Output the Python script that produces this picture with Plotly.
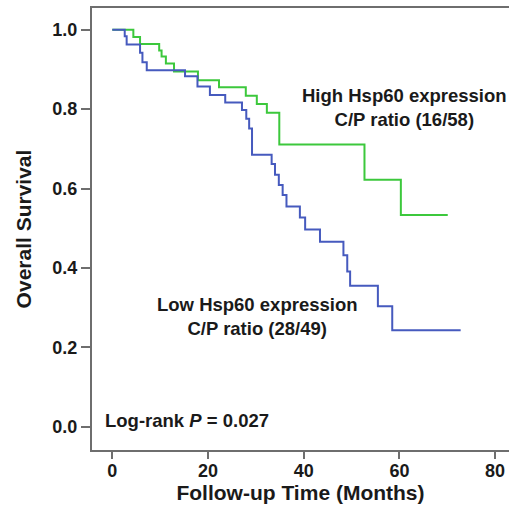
import plotly.graph_objects as go

# Kaplan-Meier step data
high_time = [0, 4.4, 5.8, 9.8, 10.3, 11.2, 12.9, 17.9, 22.3, 27.9, 30.2, 32.3, 34.9, 52.7, 60.3, 70.1]
high_surv = [1.0, 0.982, 0.964, 0.948, 0.933, 0.915, 0.895, 0.873, 0.855, 0.834, 0.813, 0.791, 0.711, 0.622, 0.533, 0.533]

low_time = [0, 2.6, 3.0, 5.8, 6.3, 7.2, 15.2, 17.8, 20.4, 23.6, 27.1, 28.0, 28.6, 29.2, 33.3, 34.0,
            34.8, 35.6, 36.4, 39.2, 40.3, 43.4, 48.3, 49.1, 49.7, 55.5, 58.5, 72.8]
low_surv = [1.0, 0.984, 0.963, 0.942, 0.918, 0.898, 0.883, 0.857, 0.836, 0.817, 0.798, 0.776, 0.751, 0.685,
            0.662, 0.635, 0.609, 0.584, 0.555, 0.527, 0.497, 0.466, 0.432, 0.391, 0.355, 0.303, 0.243, 0.243]

x_ticks = [0, 20, 40, 60, 80]
y_ticks = [0.0, 0.2, 0.4, 0.6, 0.8, 1.0]
y_tick_text = ["0.0", "0.2", "0.4", "0.6", "0.8", "1.0"]

FONT = "Liberation Sans, Arial, sans-serif"
TXT = "#1a1a1a"
AX = "#6e6e6e"

fig = go.Figure()
fig.add_trace(go.Scatter(x=high_time, y=high_surv, mode="lines", line_shape="hv",
                         line=dict(color="rgb(60,200,60)", width=2), showlegend=False))
fig.add_trace(go.Scatter(x=low_time, y=low_surv, mode="lines", line_shape="hv",
                         line=dict(color="rgb(70,90,190)", width=2), showlegend=False))

fig.add_annotation(x=61.0, y=0.805, xref="x", yref="y", showarrow=False,
                   text="High Hsp60 expression<br>C/P ratio (16/58)", align="center",
                   font=dict(family=FONT, size=18.5, color=TXT, weight="bold"))
fig.add_annotation(x=30.2, y=0.277, xref="x", yref="y", showarrow=False,
                   text="Low Hsp60 expression<br>C/P ratio (28/49)", align="center",
                   font=dict(family=FONT, size=18.5, color=TXT, weight="bold"))
fig.add_annotation(x=-1.94, y=0.015, xref="x", yref="y", showarrow=False, xanchor="left",
                   text="Log-rank <i>P</i> = 0.027",
                   font=dict(family=FONT, size=18.5, color=TXT, weight="bold"))

fig.update_layout(
    width=509, height=510,
    margin=dict(l=92, r=0, t=8, b=60),
    paper_bgcolor="white", plot_bgcolor="white",
    xaxis=dict(range=[-4.24, 82.9], tickvals=x_ticks, showgrid=False, zeroline=False,
               automargin=False,
               showline=True, linecolor=AX, linewidth=2, mirror=True,
               ticks="outside", ticklen=7, tickwidth=2, tickcolor=AX,
               ticklabelstandoff=-4,
               tickfont=dict(family=FONT, size=18, color=TXT, weight="bold"),
               title=dict(text="Follow-up Time (Months)", standoff=6,
                          font=dict(family=FONT, size=21, color=TXT, weight="bold"))),
    yaxis=dict(range=[-0.059, 1.055], tickvals=y_ticks, ticktext=y_tick_text,
               showgrid=False, zeroline=False, automargin=False,
               showline=True, linecolor=AX, linewidth=2, mirror=False,
               ticks="outside", ticklen=9, tickwidth=2, tickcolor=AX,
               tickfont=dict(family=FONT, size=18, color=TXT, weight="bold"),
               title=dict(text="Overall Survival", standoff=15,
                          font=dict(family=FONT, size=21, color=TXT, weight="bold"))),
)

fig.write_html("out.html", config={"displayModeBar": False},
               post_script="document.body.style.margin='0';document.body.style.overflow='hidden';")
